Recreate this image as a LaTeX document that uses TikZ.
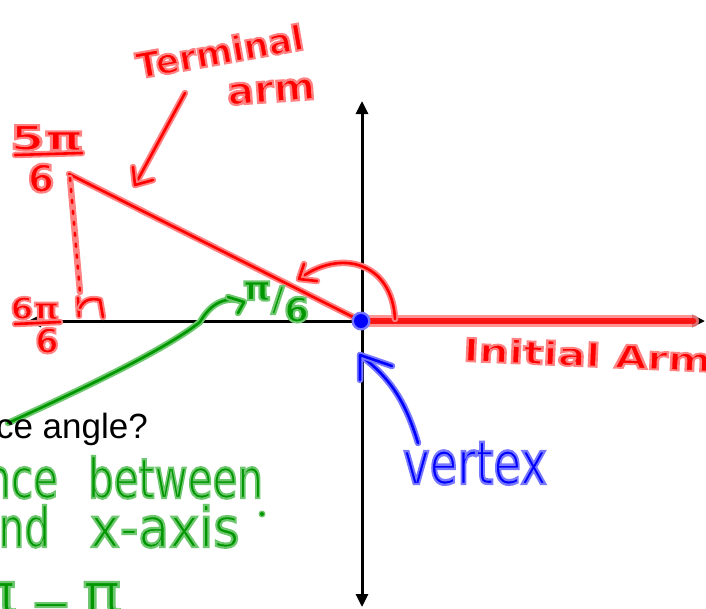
\documentclass[tikz,border=0pt]{standalone}
\usepackage{fontspec}
\setmainfont{Liberation Sans}
\newfontfamily\handB[FakeBold=6]{DejaVu Sans Bold}
\newfontfamily\handR[FakeBold=4]{DejaVu Sans}
\usetikzlibrary{arrows.meta}
\definecolor{penred}{RGB}{255,0,0}
\definecolor{penredlt}{RGB}{255,130,130}
\definecolor{pengreen}{RGB}{0,150,0}
\definecolor{pengreenlt}{RGB}{110,200,110}
\definecolor{penblue}{RGB}{0,0,255}
\definecolor{penbluelt}{RGB}{120,120,255}
\newcommand{\hsz}[1]{\fontsize{#1}{#1}\selectfont}
% light stroke (halo) colour for the text outline
\newcommand{\halored}{\special{pdf:literal direct 1 0.51 0.51 RG}}
\newcommand{\halogreen}{\special{pdf:literal direct 0.43 0.78 0.43 RG}}
\newcommand{\haloblue}{\special{pdf:literal direct 0.47 0.47 1 RG}}
\tikzset{
  pen/.style={line width=2.6pt,line cap=round,line join=round},
  redpen/.style={pen,draw=penred,preaction={draw=penredlt,line width=6.5pt,line cap=round,line join=round}},
  greenpen/.style={pen,draw=pengreen,preaction={draw=pengreenlt,line width=6.5pt,line cap=round,line join=round}},
  bluepen/.style={pen,draw=penblue,preaction={draw=penbluelt,line width=6.5pt,line cap=round,line join=round}},
  axisline/.style={line width=3pt,draw=black,{Triangle[length=13pt,width=12pt]}-{Triangle[length=13pt,width=12pt]}},
  handtxt/.style={inner sep=0pt,outer sep=0pt},
  redtxt/.style={handtxt,text=penred},
  greentxt/.style={handtxt,text=pengreen},
  bluetxt/.style={handtxt,text=penblue},
}
\begin{document}
\begin{tikzpicture}[x=1pt,y=-1pt]
\useasboundingbox (0,0) rectangle (706,608);
\clip (0,0) rectangle (706,608);
\fill[white] (0,0) rectangle (706,608);

% key points
\coordinate (O) at (361,321);
\coordinate (L) at (28,321);
\coordinate (R) at (705,321);
\coordinate (T) at (362,101);
\coordinate (B) at (362,607);
\coordinate (P) at (69,174);
\coordinate (I) at (693,321);

% axes
\draw[axisline] (L) -- (R);
\draw[axisline] (B) -- (T);

% initial arm (thick red over the axis)
\draw[penredlt,line width=12pt,line cap=round,opacity=0.85] (O) -- (I);
\draw[penred,line width=6.5pt,line cap=round,opacity=0.82] (O) -- (I);

% terminal arm
\draw[redpen] (P) -- (O);

% dotted drop line and right-angle mark
\draw[redpen,dash pattern=on 3pt off 8pt] (70,178) -- (80,292);
\draw[redpen] (78,298) -- (79,316);
\draw[redpen] (80,308) .. controls (84,299) and (92,298) .. (100,300) -- (103,317);

% angle arc with arrow
\draw[redpen] (395,319) .. controls (392,262) and (340,248) .. (299,279);
\draw[redpen] (304,264) -- (299,279) -- (317,281);

% terminal arm label + arrow
\node[redtxt,font={\handB\hsz{35}},rotate=10,anchor=base] (term) at (222,64) {\halored Terminal};
\node[redtxt,font={\handB\hsz{38}},rotate=4,anchor=base] (arm) at (272,102) {\scalebox{1.05}[1]{\halored arm}};
\coordinate (tA) at (185,93);
\coordinate (tB) at (135,185);
\draw[redpen] (tA) -- (tB);
\draw[redpen] (133,167) -- (tB) -- (153,180);

% 5pi/6
\node[redtxt,font={\handB\hsz{34}},anchor=base] (fivepi) at (47,150) {\scalebox{1.45}[1]{\halored 5π}};
\draw[redpen] (15,155) -- (82,153);
\node[redtxt,font={\handB\hsz{38}},anchor=base] (fivepiden) at (41,192) {\halored 6};

% 6pi/6
\node[redtxt,font={\handB\hsz{30}},anchor=base] (sixpi) at (35,319) {\scalebox{1.1}[1]{\halored 6π}};
\draw[redpen] (15,324) -- (60,322);
\node[redtxt,font={\handB\hsz{34}},anchor=base] (sixpiden) at (47,353) {\halored 6};

% Initial Arm
\node[redtxt,font={\handB\hsz{32}},rotate=-2.5,anchor=base west] (init) at (463,361) {\scalebox{1.31}[1]{\halored Initial Arm}};

% vertex
\fill[penbluelt] (O) circle (9.5);
\fill[penblue] (O) circle (7);
\node[bluetxt,font={\handR\hsz{60}},anchor=base west] (vert) at (403,484) {\scalebox{0.75}[1]{\haloblue vertex}};
\coordinate (vA) at (418,443);
\coordinate (vB) at (360,355);
\draw[bluepen] (vA) .. controls (405,400) and (390,378) .. (vB);
\draw[bluepen] (360,380) -- (vB) -- (392,366);

% pi/6 and green arrow
\node[greentxt,font={\handB\hsz{34}},anchor=base] (pisix) at (276,311) {\scalebox{1.05}[1]{\halogreen\raisebox{11pt}{π}/\raisebox{-11pt}{6}}};
\coordinate (gA) at (8,423);
\coordinate (gB) at (244,302);
\draw[greenpen] (gA) .. controls (80,390) and (165,350) .. (200,322) .. controls (208,308) and (222,294) .. (gB);
\draw[greenpen] (228,297) -- (gB) -- (238,313);

% question text
\node[inner sep=0pt,font=\hsz{35},anchor=base east] (q) at (148,438) {ce angle?};

% green handwritten answer
\node[greentxt,font={\handR\hsz{46}},anchor=base east] (nce) at (58,498) {\scalebox{0.88}[1.2]{\halogreen nce}};
\node[greentxt,font={\handR\hsz{46}},anchor=base west] (betw) at (88,498) {\scalebox{0.88}[1.2]{\halogreen between}};
\node[greentxt,font={\handR\hsz{46}},anchor=base east] (nd) at (50,547) {\scalebox{0.88}[1.2]{\halogreen nd}};
\node[greentxt,font={\handR\hsz{46}},anchor=base west] (xax) at (90,547) {\scalebox{1.1}[1.2]{\halogreen x-axis}};
\fill[pengreenlt] (262,514) circle (3.5);
\fill[pengreen] (262,514) circle (2);
\node[greentxt,font={\handR\hsz{56}},anchor=north] (piA) at (-3,582) {\scalebox{1.15}[1]{\halogreen π}};
\node[greentxt,font={\handR\hsz{50}},anchor=north] (minus) at (51,603) {\halogreen −};
\node[greentxt,font={\handR\hsz{56}},anchor=north] (piB) at (102,582) {\scalebox{1.15}[1]{\halogreen π}};
\end{tikzpicture}
\end{document}
